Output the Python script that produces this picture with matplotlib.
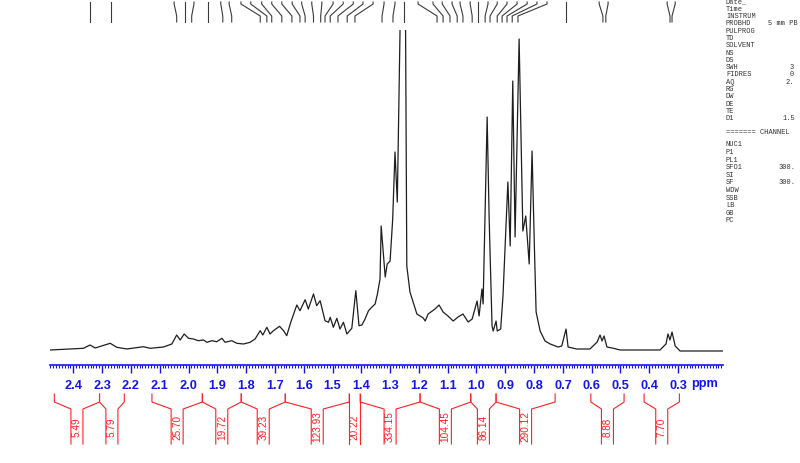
import matplotlib
matplotlib.use("Agg")
import matplotlib.pyplot as plt
from matplotlib.ticker import FixedLocator, MultipleLocator

# ---------------- data ----------------
spec_ppm = [2.481, 2.365, 2.342, 2.324, 2.272, 2.249, 2.214, 2.157, 2.133, 2.087,
            2.058, 2.041, 2.029, 2.015, 2.000, 1.983, 1.966, 1.948, 1.936, 1.919,
            1.902, 1.884, 1.873, 1.850, 1.832, 1.809, 1.786, 1.769, 1.751, 1.742,
            1.728, 1.717, 1.705, 1.684, 1.670, 1.659, 1.645, 1.624, 1.613, 1.595,
            1.584, 1.566, 1.555, 1.543, 1.526, 1.514, 1.508, 1.497, 1.485, 1.474,
            1.462, 1.450, 1.433, 1.419, 1.408, 1.398, 1.387, 1.375, 1.364, 1.352,
            1.344, 1.335, 1.331, 1.317, 1.310, 1.300, 1.291, 1.283, 1.275, 1.260,
            1.255, 1.248, 1.242, 1.231, 1.207, 1.185, 1.178, 1.168, 1.144, 1.130,
            1.116, 1.099, 1.081, 1.064, 1.047, 1.029, 1.015, 0.998, 0.991, 0.981,
            0.977, 0.963, 0.956, 0.946, 0.942, 0.932, 0.928, 0.916, 0.908, 0.891,
            0.883, 0.874, 0.866, 0.852, 0.839, 0.829, 0.817, 0.807, 0.799, 0.793,
            0.779, 0.762, 0.744, 0.717, 0.704, 0.689, 0.682, 0.652, 0.606, 0.581,
            0.571, 0.564, 0.557, 0.547, 0.529, 0.501, 0.363, 0.342, 0.335, 0.328,
            0.321, 0.310, 0.293, 0.144]
spec_int = [1.0, 2.7, 6.0, 3.0, 7.7, 3.7, 2.0, 4.3, 2.7, 4.0,
            7.0, 16.0, 11.0, 17.0, 12.7, 12.0, 10.3, 11.0, 8.7, 10.3,
            9.3, 12.7, 8.7, 10.3, 7.7, 7.0, 8.7, 12.0, 20.3, 16.0,
            23.7, 17.0, 20.3, 24.7, 20.3, 15.3, 28.7, 46.0, 40.3, 51.3,
            42.0, 57.0, 45.3, 50.3, 30.3, 28.7, 33.7, 23.7, 32.7, 22.0,
            28.7, 17.0, 22.7, 60.3, 25.3, 26.0, 32.0, 40.3, 43.7, 47.0,
            57.0, 72.0, 125.0, 74.0, 87.0, 90.0, 132.0, 199.0, 149.0, 420.0,
            700.0, 420.0, 85.0, 59.0, 37.0, 33.0, 30.0, 37.0, 42.0, 46.0,
            39.0, 35.0, 30.0, 34.0, 37.0, 29.0, 32.0, 50.0, 35.0, 62.0,
            47.0, 234.0, 132.0, 25.0, 20.0, 30.0, 20.0, 22.0, 55.0, 169.0,
            105.0, 270.0, 114.0, 312.0, 120.0, 135.0, 87.0, 200.0, 105.0, 39.0,
            20.0, 10.0, 7.0, 4.0, 5.0, 22.0, 4.0, 2.0, 2.0, 9.0,
            16.0, 10.0, 15.0, 4.0, 3.0, 1.0, 1.0, 7.0, 17.0, 11.0,
            19.0, 5.0, 0.0, 0.0]

tick_values = [2.4, 2.3, 2.2, 2.1, 2.0, 1.9, 1.8, 1.7, 1.6, 1.5, 1.4, 1.3,
               1.2, 1.1, 1.0, 0.9, 0.8, 0.7, 0.6, 0.5, 0.4, 0.3]
tick_labels = ["2.4", "2.3", "2.2", "2.1", "2.0", "1.9", "1.8", "1.7", "1.6", "1.5",
               "1.4", "1.3", "1.2", "1.1", "1.0", "0.9", "0.8", "0.7", "0.6", "0.5",
               "0.4", "0.3"]

int_start = [2.466, 2.309, 2.127, 1.952, 1.817, 1.664, 1.442, 1.404, 1.196, 1.020, 0.932, 0.603, 0.418]
int_end = [2.309, 2.223, 1.952, 1.817, 1.664, 1.442, 1.404, 1.196, 1.020, 0.932, 0.727, 0.4875, 0.2955]
int_labels = ["5.49", "5.79", "25.70", "19.72", "39.23", "123.93", "20.22",
              "334.15", "104.45", "86.14", "290.12", "8.88", "7.70"]

peak_label_ppm = [2.341, 2.269, 2.050, 2.012, 1.981, 1.933, 1.888, 1.859, 1.818, 1.784,
                  1.746, 1.711, 1.676, 1.640, 1.607, 1.572, 1.537, 1.498, 1.463, 1.428,
                  1.394, 1.359, 1.321, 1.283, 1.251, 1.203, 1.151, 1.119, 1.085, 1.057,
                  1.022, 0.994, 0.960, 0.928, 0.894, 0.859, 0.824, 0.790, 0.755, 0.690,
                  0.574, 0.543, 0.338, 0.310]
peak_ppm = [2.341, 2.269, 2.041, 2.012, 1.989, 1.933, 1.881, 1.850, 1.751, 1.728,
            1.711, 1.676, 1.641, 1.613, 1.595, 1.566, 1.541, 1.526, 1.508, 1.481,
            1.449, 1.422, 1.328, 1.290, 1.251, 1.137, 1.116, 1.092, 1.067, 1.047,
            1.015, 0.994, 0.970, 0.953, 0.928, 0.911, 0.894, 0.876, 0.856, 0.690,
            0.561, 0.551, 0.328, 0.321]

param_names = ["Date_", "Time", "INSTRUM", "PROBHD", "PULPROG", "TD", "SOLVENT", "NS", "DS",
               "SWH", "FIDRES", "AQ", "RG", "DW", "DE", "TE", "D1"]
param_values = ["", "", "", "5 mm PB", "", "", "", "", "",
                "3", "0", "2.", "", "", "", "", "1.5"]
chan_names = ["NUC1", "P1", "PL1", "SFO1", "SI", "SF", "WDW", "SSB", "LB", "GB", "PC"]
chan_values = ["", "", "", "300.", "", "300.", "", "", "", "", ""]

# ---------------- layout ----------------
W, H = 800, 464
fig = plt.figure(figsize=(W / 100, H / 100), dpi=100)
fig.patch.set_facecolor("white")


def fx(px):
    return px / W


def fy(py):
    return 1 - py / H


ppm_left, ppm_right = 2.481, 0.144
x0, x1 = 50, 723
blue = "#1414f0"
red = "#ff2020"

ax = fig.add_axes([fx(x0), fy(366), fx(x1) - fx(x0), fy(31) - fy(366)])
ax.set_xlim(ppm_left, ppm_right)
ax.set_ylim(-14, 321)
ax.plot(spec_ppm, spec_int, color="#1e1e1e", lw=0.9)
for s in ["top", "left", "right"]:
    ax.spines[s].set_visible(False)
ax.spines["bottom"].set_color(blue)
ax.spines["bottom"].set_linewidth(1.2)
ax.set_yticks([])
ax.xaxis.set_major_locator(FixedLocator(tick_values))
ax.set_xticklabels(tick_labels, fontfamily="Liberation Sans", fontweight="bold",
                   fontsize=9.2, color=blue)
ax.xaxis.set_minor_locator(MultipleLocator(0.01))
ax.tick_params(axis="x", which="major", direction="out", length=6, width=1.0,
               color=blue, pad=4)
ax.tick_params(axis="x", which="minor", direction="out", length=2.5, width=0.8,
               color=blue)
ax.patch.set_alpha(0)

fig.text(fx(705), fy(384), "ppm", color=blue, fontfamily="Liberation Sans",
         fontweight="bold", fontsize=9.2, ha="center", va="center")

# ---------------- integrals ----------------
axi = fig.add_axes([fx(x0), fy(450), fx(x1) - fx(x0), fy(390) - fy(450)])
axi.set_xlim(ppm_left, ppm_right)
axi.set_ylim(450, 390)
axi.axis("off")
col_hw = 6.0 / 288.0
for a, b, lab in zip(int_start, int_end, int_labels):
    mid = (a + b) / 2
    hw = min(col_hw, (a - b) / 2)
    axi.plot([a, a, mid + hw, mid + hw], [395, 403, 410, 445], color=red, lw=0.8)
    axi.plot([b, b, mid - hw, mid - hw], [395, 403, 410, 445], color=red, lw=0.8)
    axi.text(mid, 427, lab, rotation=90, ha="center", va="center", color=red,
             fontfamily="Liberation Sans", fontsize=7.2)

# ---------------- peak label leaders ----------------
axt = fig.add_axes([fx(x0), fy(24), fx(x1) - fx(x0), fy(0) - fy(24)])
axt.set_xlim(ppm_left, ppm_right)
axt.set_ylim(24, 0)
axt.axis("off")
for t, p in zip(peak_label_ppm, peak_ppm):
    axt.plot([t, t, p, p], [3, 5, 17, 23], color="#3a3a3a", lw=0.8)

# ---------------- parameter panel ----------------
mono = dict(fontfamily="Liberation Mono", fontsize=5.0, color="#333333", va="center")
y = 2
for n, v in zip(param_names, param_values):
    fig.text(fx(726), fy(y), n, **mono)
    if v:
        fig.text(fx(800 - 7 - 3.6 * len(v)), fy(y), v, **mono)
    y += 7.3
fig.text(fx(726), fy(132.5), "======= CHANNEL", **mono)
y = 145
for n, v in zip(chan_names, chan_values):
    fig.text(fx(726), fy(y), n, **mono)
    if v:
        fig.text(fx(800 - 7 - 3.6 * len(v)), fy(y), v, **mono)
    y += 7.6

fig.savefig("out.png", dpi=100, facecolor="white")
